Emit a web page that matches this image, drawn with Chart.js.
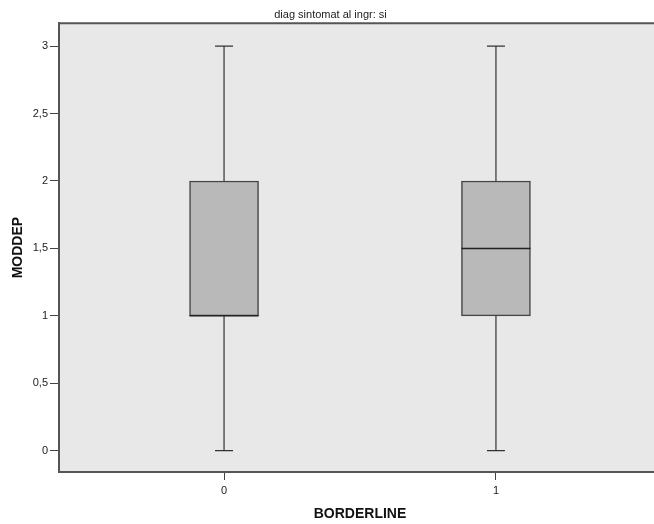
<!DOCTYPE html>
<html>
<head>
<meta charset="utf-8">
<script src="https://cdn.jsdelivr.net/npm/chart.js@4"></script>
<style>
    html, body { margin: 0; padding: 0; background: #fff; overflow: hidden; }
    #wrap { width: 664px; height: 524px; }
</style>
</head>
<body>
<div id="wrap"><canvas id="myChart" width="664" height="524"></canvas></div>
<script>
// Datos del diagrama de caja
const categorias = ['0', '1'];
const bigoteInferior = [0, 0];
const cuartil1 = [1, 1];
const mediana = [1, 1.5];
const cuartil3 = [2, 2];
const bigoteSuperior = [3, 3];
const ticksY = [0, 0.5, 1, 1.5, 2, 2.5, 3];

// Fondo gris y borde del área del gráfico
const fondoPlugin = {
    id: 'fondo',
    beforeDraw(chart) {
        const { ctx, chartArea } = chart;
        ctx.save();
        ctx.fillStyle = '#e8e8e8';
        ctx.fillRect(chartArea.left, chartArea.top, chartArea.right - chartArea.left, chartArea.bottom - chartArea.top);
        ctx.strokeStyle = '#555';
        ctx.lineWidth = 2;
        ctx.beginPath();
        ctx.moveTo(chartArea.left, chartArea.top);
        ctx.lineTo(chartArea.right, chartArea.top);
        ctx.stroke();
        ctx.restore();
    }
};

// Bigotes y mediana dibujados con las escalas del gráfico
const bigotesPlugin = {
    id: 'bigotes',
    afterDatasetsDraw(chart) {
        const { ctx } = chart;
        const yScale = chart.scales.y;
        const meta = chart.getDatasetMeta(0);
        ctx.save();
        meta.data.forEach((bar, i) => {
            const x = bar.x;
            const mitad = bar.width / 2;
            const yMin = yScale.getPixelForValue(bigoteInferior[i]);
            const yQ1 = yScale.getPixelForValue(cuartil1[i]);
            const yQ3 = yScale.getPixelForValue(cuartil3[i]);
            const yMax = yScale.getPixelForValue(bigoteSuperior[i]);
            const yMed = yScale.getPixelForValue(mediana[i]);
            ctx.strokeStyle = '#333';
            ctx.lineWidth = 1.2;
            ctx.beginPath();
            ctx.moveTo(x, yMin); ctx.lineTo(x, yQ1);
            ctx.moveTo(x, yQ3); ctx.lineTo(x, yMax);
            ctx.moveTo(x - 9, yMin); ctx.lineTo(x + 9, yMin);
            ctx.moveTo(x - 9, yMax); ctx.lineTo(x + 9, yMax);
            ctx.stroke();
            ctx.lineWidth = 1.5;
            ctx.strokeStyle = '#222';
            ctx.beginPath();
            ctx.moveTo(x - mitad, yMed); ctx.lineTo(x + mitad, yMed);
            ctx.stroke();
        });
        ctx.restore();
    }
};

const ctx = document.getElementById('myChart').getContext('2d');
new Chart(ctx, {
    type: 'bar',
    data: {
        datasets: [{
            label: 'MODDEP',
            data: categorias.map((c, i) => ({ x: Number(c), y: [cuartil1[i], cuartil3[i]] })),
            backgroundColor: '#b9b9b9',
            borderColor: '#454545',
            borderWidth: 1.5,
            borderSkipped: false,
            barThickness: 69
        }]
    },
    options: {
        responsive: false,
        animation: false,
        layout: { padding: { left: 0, right: 3, top: 0, bottom: 0 } },
        plugins: {
            legend: { display: false },
            tooltip: { enabled: false },
            title: {
                display: true,
                text: 'diag sintomat al ingr: si',
                color: '#222',
                font: { family: 'Liberation Sans', size: 11, weight: 'normal' },
                padding: { top: 8, bottom: 2 }
            }
        },
        scales: {
            x: {
                type: 'linear',
                offset: false,
                min: -0.607,
                max: 1.607,
                afterBuildTicks: (scale) => { scale.ticks = categorias.map(c => ({ value: Number(c) })); },
                afterFit: (scale) => { scale.height = 52; },
                ticks: {
                    callback: (v) => String(v),
                    color: '#222',
                    padding: 4,
                    font: { family: 'Liberation Sans', size: 11 }
                },
                grid: { offset: false, drawOnChartArea: false, drawTicks: true, tickLength: 8, color: '#444' },
                border: { display: true, color: '#555', width: 2 },
                title: {
                    display: true,
                    text: 'BORDERLINE',
                    color: '#111',
                    font: { family: 'Liberation Sans', size: 14, weight: 'bold' },
                    padding: { top: 0, bottom: 1 }
                }
            },
            y: {
                min: -0.158,
                max: 3.17,
                afterBuildTicks: (scale) => { scale.ticks = ticksY.map(v => ({ value: v })); },
                afterFit: (scale) => { scale.width = 59; },
                ticks: {
                    callback: (v) => String(v).replace('.', ','),
                    color: '#222',
                    padding: 2,
                    font: { family: 'Liberation Sans', size: 11 }
                },
                grid: { drawOnChartArea: false, drawTicks: true, tickLength: 9, color: '#444' },
                border: { display: true, color: '#555', width: 2 },
                title: {
                    display: true,
                    text: 'MODDEP',
                    color: '#111',
                    font: { family: 'Liberation Sans', size: 14, weight: 'bold' },
                    padding: { top: 10, bottom: 0 }
                }
            }
        }
    },
    plugins: [fondoPlugin, bigotesPlugin]
});
</script>
</body>
</html>
